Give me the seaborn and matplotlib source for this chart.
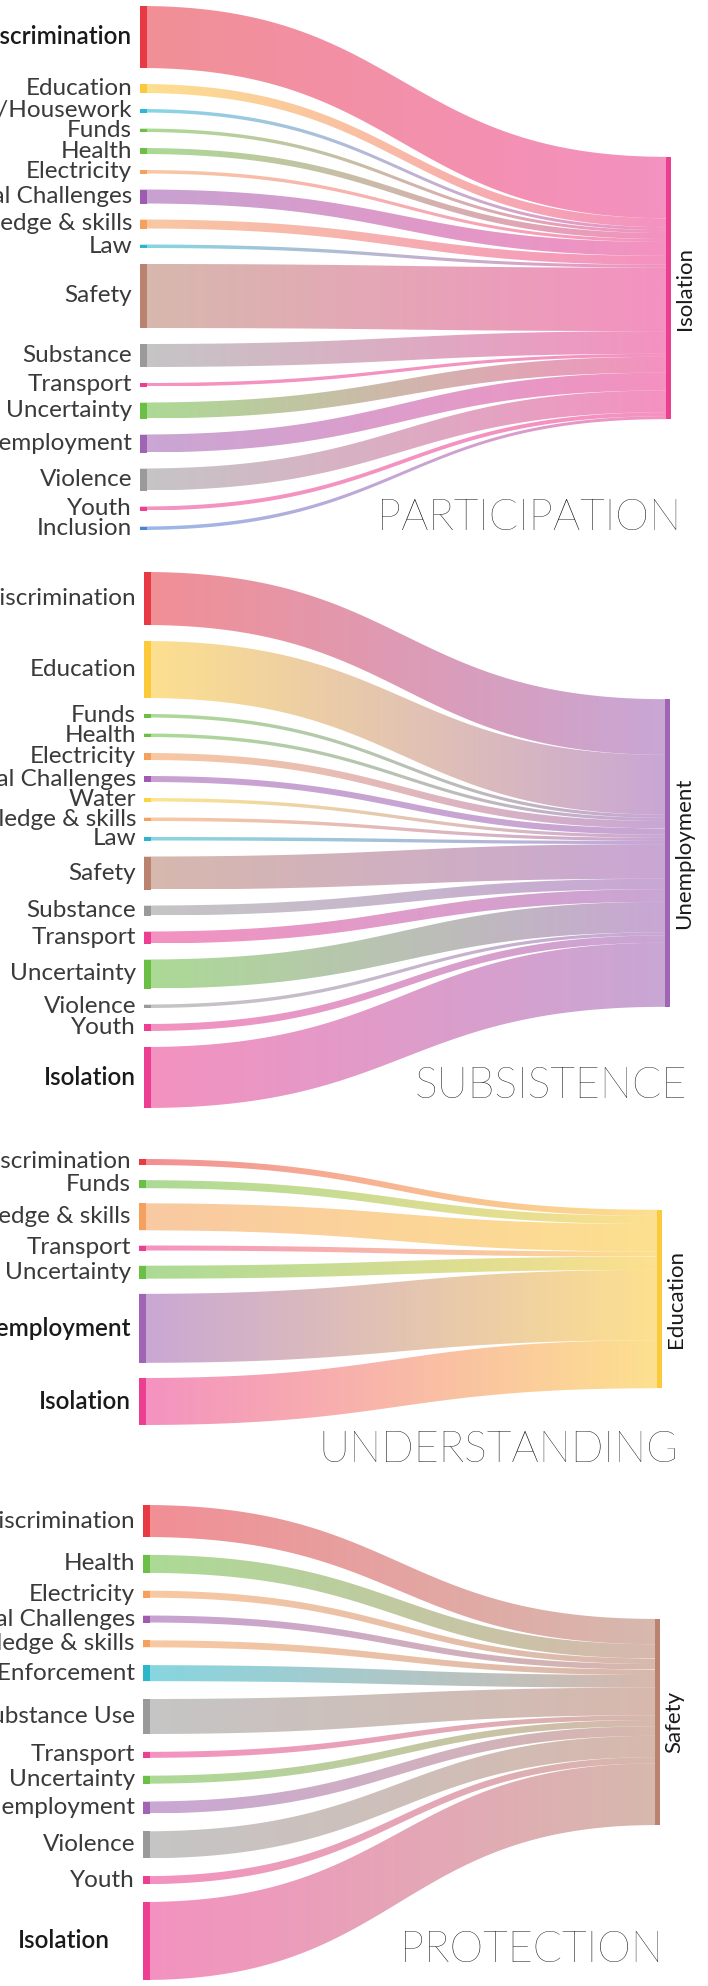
import numpy as np
import matplotlib
matplotlib.use('Agg')
import matplotlib.pyplot as plt
from matplotlib.patches import Polygon
import seaborn as sns

sns.set_theme(style='white')
plt.rcParams['font.family'] = ['Lato', 'DejaVu Sans']

# node colours
colors = {
    'Discrimination': '#e83a45',
    'Education': '#fcc93a',
    'Support/Housework': '#2bb7d6',
    'Funds': '#6cbf45',
    'Health': '#6cbf45',
    'Electricity': '#f5a05c',
    'Mental Challenges': '#9e5bb0',
    'Knowledge & skills': '#f5a05c',
    'Law': '#2bb7c9',
    'Law Enforcement': '#2bb7c9',
    'Safety': '#b98370',
    'Substance': '#9a9a9a',
    'Substance Use': '#9a9a9a',
    'Transport': '#ec3f91',
    'Uncertainty': '#6cbf45',
    'Unemployment': '#a064b4',
    'Violence': '#9a9a9a',
    'Youth': '#ec3f91',
    'Inclusion': '#4a84d6',
    'Water': '#fbd33f',
    'Isolation': '#ec3f91',
}

# PARTICIPATION -> Isolation
p1_labels = ['Discrimination', 'Education', 'Support/Housework', 'Funds', 'Health',
             'Electricity', 'Mental Challenges', 'Knowledge & skills', 'Law', 'Safety',
             'Substance', 'Transport', 'Uncertainty', 'Unemployment', 'Violence',
             'Youth', 'Inclusion']
p1_values = [62, 9, 3, 3, 6, 3, 14, 9, 3, 64, 23, 3, 16, 18, 22, 4, 3]

# SUBSISTENCE -> Unemployment
p2_labels = ['Discrimination', 'Education', 'Funds', 'Health', 'Electricity',
             'Mental Challenges', 'Water', 'Knowledge & skills', 'Law', 'Safety',
             'Substance', 'Transport', 'Uncertainty', 'Violence', 'Youth', 'Isolation']
p2_values = [53, 57, 3, 3, 7, 6, 3, 3, 3, 33, 10, 12, 29, 3, 7, 61]

# UNDERSTANDING -> Education
p3_labels = ['Discrimination', 'Funds', 'Knowledge & skills', 'Transport',
             'Uncertainty', 'Unemployment', 'Isolation']
p3_values = [6, 8, 27, 5, 13, 69, 47]

# PROTECTION -> Safety
p4_labels = ['Discrimination', 'Health', 'Electricity', 'Mental Challenges',
             'Knowledge & skills', 'Law Enforcement', 'Substance Use', 'Transport',
             'Uncertainty', 'Unemployment', 'Violence', 'Youth', 'Isolation']
p4_values = [32, 18, 7, 7, 7, 16, 35, 6, 8, 12, 27, 8, 78]

panels = [
    dict(title='PARTICIPATION', target='Isolation', labels=p1_labels, values=p1_values,
         bold=['Discrimination'], top=6, bottom=530, node_x=140,
         tgt_x=666, tgt_mid=288, tgt_scale=0.99, title_xy=(377, 519), lab_x={}),
    dict(title='SUBSISTENCE', target='Unemployment', labels=p2_labels, values=p2_values,
         bold=['Isolation'], top=572, bottom=1108, node_x=144,
         tgt_x=665, tgt_mid=853, tgt_scale=1.05, title_xy=(415, 1087), lab_x={}),
    dict(title='UNDERSTANDING', target='Education', labels=p3_labels, values=p3_values,
         bold=['Unemployment', 'Isolation'], top=1159, bottom=1425, node_x=139,
         tgt_x=657, tgt_mid=1299, tgt_scale=1.02, title_xy=(318, 1450), lab_x={}),
    dict(title='PROTECTION', target='Safety', labels=p4_labels, values=p4_values,
         bold=['Isolation'], top=1505, bottom=1980, node_x=143,
         tgt_x=655, tgt_mid=1722, tgt_scale=0.79, title_xy=(400, 1950),
         lab_x={'Isolation': 110}),
]

W, H = 708, 1986
fig = plt.figure(figsize=(W / 100, H / 100), dpi=100)
ax = fig.add_axes([0, 0, 1, 1])

node_w = 7
min_h = 3.5
link_alpha = 0.57
t = np.linspace(0, 1, 120)

for p in panels:
    vals = np.array(p['values'], dtype=float)
    n = len(vals)
    # left column: node heights from values, evenly spread gaps
    h = np.maximum(vals, min_h)
    gap = (p['bottom'] - p['top'] - h.sum()) / (n - 1)
    s_top = p['top'] + np.concatenate([[0], np.cumsum(h + gap)[:-1]])
    s_bot = s_top + h
    # right column: stacked share of target
    tw = vals * p['tgt_scale']
    t0 = p['tgt_mid'] - tw.sum() / 2
    t_top = t0 + np.concatenate([[0], np.cumsum(tw)[:-1]])
    t_bot = t_top + tw

    x0, x1 = p['node_x'], p['tgt_x']
    xm = (x0 + x1) / 2
    xs = (1 - t) ** 3 * x0 + 3 * (1 - t) ** 2 * t * xm + 3 * (1 - t) * t ** 2 * xm + t ** 3 * x1
    ease = 3 * t ** 2 - 2 * t ** 3
    tcol = colors[p['target']]

    for i, lab in enumerate(p['labels']):
        y_up = s_top[i] + (t_top[i] - s_top[i]) * ease
        y_dn = s_bot[i] + (t_bot[i] - s_bot[i]) * ease
        verts = np.vstack([np.column_stack([xs, y_up]), np.column_stack([xs[::-1], y_dn[::-1]])])
        poly = Polygon(verts, closed=True, facecolor='none', edgecolor='none', transform=ax.transData)
        grad = np.array(sns.blend_palette([colors[lab], tcol], n_colors=64))
        img = np.concatenate([grad, np.full((64, 1), link_alpha)], axis=1)[None, :, :]
        im = ax.imshow(img, extent=(x0, x1, verts[:, 1].max(), verts[:, 1].min()),
                       aspect='auto', interpolation='bilinear', zorder=1)
        im.set_clip_path(poly)

        # source node
        ax.fill_between([x0, x0 + node_w], s_top[i], s_bot[i], color=colors[lab], lw=0, zorder=3)
        is_bold = lab in p['bold']
        ax.text(p['lab_x'].get(lab, x0 - 8), (s_top[i] + s_bot[i]) / 2, lab,
                ha='right', va='center', fontsize=17.5,
                fontweight='semibold' if is_bold else 'normal',
                color='#1a1a1a' if is_bold else '#3a3a3a', zorder=4)

    # target node
    ax.fill_between([x1, x1 + 5], t_top[0], t_bot[-1], color=tcol, lw=0, zorder=3)
    ax.text(x1 + 19, p['tgt_mid'], p['target'], rotation=90, ha='center', va='center',
            fontsize=16, color='#1a1a1a', zorder=4)

    ax.text(p['title_xy'][0], p['title_xy'][1], p['title'], ha='left', va='center',
            fontsize=31, fontweight='light', color='#000000', zorder=4)

ax.set_xlim(0, W)
ax.set_ylim(H, 0)
ax.axis('off')
fig.savefig('out.png', dpi=100)
